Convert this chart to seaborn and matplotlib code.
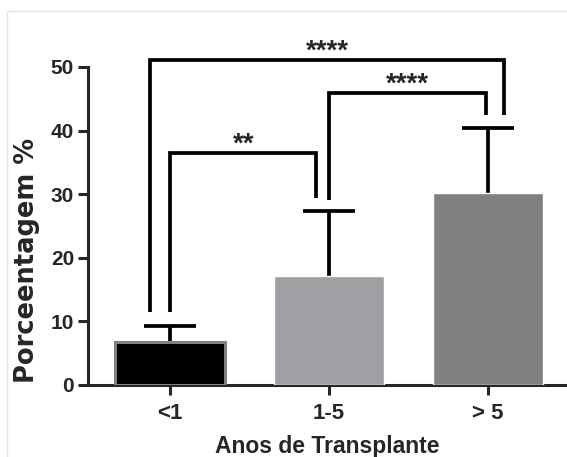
import numpy as np
import pandas as pd
import matplotlib
matplotlib.use("Agg")
import matplotlib.pyplot as plt
import seaborn as sns
from matplotlib.patches import Rectangle

# --- Data ---
categories = ["<1", "1-5", "> 5"]
means = [6.8, 17.1, 30.2]
sd_upper = [2.5, 10.3, 10.2]
bar_colors = ["#000000", "#a0a0a4", "#808080"]

# significance comparisons: (group a, group b, label)
comparisons = [("<1", "1-5", "**"), ("1-5", "> 5", "****"), ("<1", "> 5", "****")]
bracket_tops = [36.5, 45.9, 51.1]

# --- Style ---
sns.set_style("ticks")
plt.rcParams["font.family"] = ["Liberation Sans", "DejaVu Sans"]
plt.rcParams["font.weight"] = "bold"

df = pd.DataFrame({"anos": categories, "pct": means})

fig = plt.figure(figsize=(5.67, 4.57), dpi=100)
ax = fig.add_axes([88 / 567, 72 / 457, 1 - 88 / 567, 318 / 457])

sns.barplot(data=df, x="anos", y="pct", hue="anos", palette=bar_colors,
            legend=False, width=0.69, errorbar=None, ax=ax, zorder=3)
# grey rim around the black bar
ax.patches[0].set_edgecolor("#808080")
ax.patches[0].set_linewidth(2.2)

x = np.arange(len(categories))
eb = ax.errorbar(x, means, yerr=[np.zeros(len(means)), sd_upper], fmt="none",
                 ecolor="black", elinewidth=2.7, capsize=18.5, capthick=2.7,
                 zorder=2)
# only the upper cap is shown
for cl in eb[1]:
    if np.allclose(cl.get_ydata(), means):
        cl.set_visible(False)

# --- Significance brackets ---
pos = {c: i for i, c in enumerate(categories)}
leg_offsets = {0: (0.0, -0.08), 1: (0.0, -0.01), 2: (-0.125, 0.1)}
for k, ((a, b, label), top) in enumerate(zip(comparisons, bracket_tops)):
    xa = pos[a] + leg_offsets[k][0]
    xb = pos[b] + leg_offsets[k][1]
    ya = means[pos[a]] + sd_upper[pos[a]] + (2.1 if k != 1 else 1.7)
    yb = means[pos[b]] + sd_upper[pos[b]] + 2.0
    ax.plot([xa, xa, xb, xb], [ya, top, top, yb], color="black", lw=2.7,
            solid_capstyle="butt", solid_joinstyle="miter", clip_on=False, zorder=4)
    ax.text((xa + xb) / 2, top + 0.2, label, ha="center", va="baseline",
            fontsize=20, fontweight="bold", clip_on=False)

# --- Axes ---
ax.set_xlim(-0.516, 2.497)
ax.set_ylim(0, 50)
ax.set_yticks([0, 10, 20, 30, 40, 50])
sns.despine(ax=ax)
for s in ["left", "bottom"]:
    ax.spines[s].set_linewidth(2.2)
ax.tick_params(axis="y", length=7, width=2.2, labelsize=15, pad=3)
ax.tick_params(axis="x", length=7, width=2.2, labelsize=16, pad=6)
for lab in ax.get_xticklabels() + ax.get_yticklabels():
    lab.set_fontweight("bold")

ax.set_xlabel("Anos de Transplante", fontsize=16.5, fontweight="bold", labelpad=8)
ax.set_ylabel("Porceentagem %", fontsize=18.5, fontweight="bold",
              family=["DejaVu Sans"])
ax.yaxis.set_label_coords(-0.100, 0.393)

# faint frame of the original panel
fig.patches.append(Rectangle((7 / 567, -0.1), 2, 1.1 - 11 / 457, transform=fig.transFigure,
                             fill=False, edgecolor="#e4e4e4", lw=1, zorder=0))

fig.savefig("out.png", dpi=100)
